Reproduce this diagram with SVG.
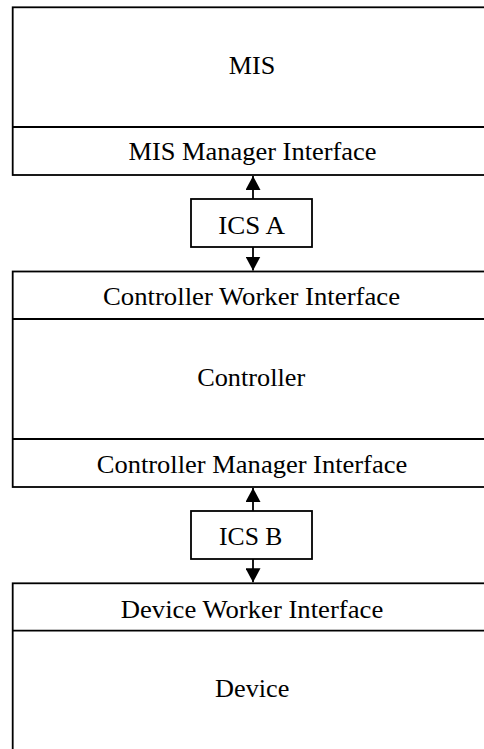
<svg xmlns="http://www.w3.org/2000/svg" width="484" height="749" viewBox="0 0 484 749">
  <style>
    .box { fill: #fff; stroke: #000; stroke-width: 1.8; }
    .div { stroke: #000; stroke-width: 1.8; fill: none; }
    .lbl { font-family: 'Times New Roman', 'Liberation Serif', 'DejaVu Serif', serif; font-size: 25.5px; fill: #000; text-anchor: middle; }
    .link { stroke: #000; stroke-width: 1.8; fill: none; }
  </style>
  <defs>
    <marker id="head" viewBox="0 0 14 15" refX="14" refY="7.5" markerWidth="14" markerHeight="15" markerUnits="userSpaceOnUse" orient="auto">
      <path d="M0,0 L14,7.5 L0,15 Z" fill="#000"/>
    </marker>
  </defs>
  <rect width="484" height="749" fill="#fff"/>

  <g id="mis">
    <rect class="box" x="12.7" y="7.3" width="500" height="167.7"/>
    <line class="div" x1="12.7" y1="127" x2="484" y2="127"/>
    <text class="lbl" x="252" y="73.5" textLength="46.5" lengthAdjust="spacingAndGlyphs">MIS</text>
    <text class="lbl" x="252.5" y="160" textLength="248" lengthAdjust="spacingAndGlyphs">MIS Manager Interface</text>
  </g>

  <g id="controller">
    <rect class="box" x="12.7" y="271.5" width="500" height="215.5"/>
    <line class="div" x1="12.7" y1="319" x2="484" y2="319"/>
    <line class="div" x1="12.7" y1="439" x2="484" y2="439"/>
    <text class="lbl" x="251.5" y="305" textLength="297" lengthAdjust="spacingAndGlyphs">Controller Worker Interface</text>
    <text class="lbl" x="251.2" y="386" textLength="108" lengthAdjust="spacingAndGlyphs">Controller</text>
    <text class="lbl" x="252" y="473" textLength="310.5" lengthAdjust="spacingAndGlyphs">Controller Manager Interface</text>
  </g>

  <g id="device">
    <rect class="box" x="12.7" y="583.3" width="500" height="200"/>
    <line class="div" x1="12.7" y1="630.7" x2="484" y2="630.7"/>
    <text class="lbl" x="252" y="618" textLength="262.5" lengthAdjust="spacingAndGlyphs">Device Worker Interface</text>
    <text class="lbl" x="252.2" y="697" textLength="74.3" lengthAdjust="spacingAndGlyphs">Device</text>
  </g>

  <g id="ics-a">
    <rect class="box" x="191" y="199" width="121" height="48"/>
    <text class="lbl" x="251.7" y="234" textLength="66.7" lengthAdjust="spacingAndGlyphs">ICS A</text>
  </g>

  <g id="ics-b">
    <rect class="box" x="191" y="511" width="121" height="48"/>
    <text class="lbl" x="250.7" y="545" textLength="63.3" lengthAdjust="spacingAndGlyphs">ICS B</text>
  </g>

  <g id="connectors">
    <line class="link" x1="253" y1="199" x2="253" y2="176" marker-end="url(#head)"/>
    <line class="link" x1="253" y1="247" x2="253" y2="270.5" marker-end="url(#head)"/>
    <line class="link" x1="253" y1="511" x2="253" y2="488" marker-end="url(#head)"/>
    <line class="link" x1="253" y1="559" x2="253" y2="582.3" marker-end="url(#head)"/>
  </g>
</svg>
